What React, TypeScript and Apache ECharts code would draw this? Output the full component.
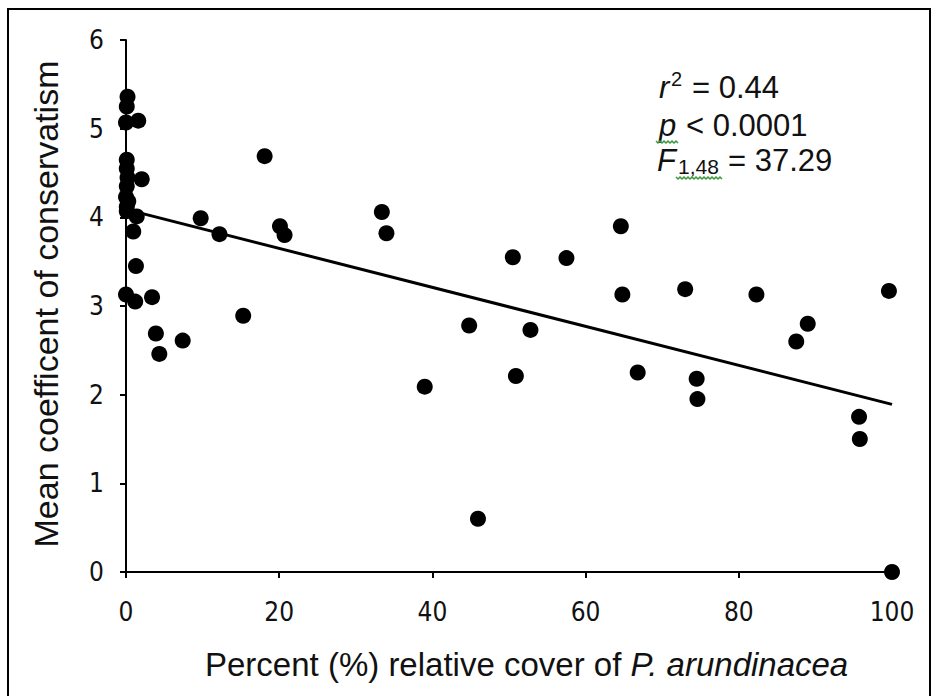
import React, { useEffect, useRef } from "react";
import * as echarts from "echarts";

const FONT = "'Liberation Sans', Arial, sans-serif";
const NARROW = "'Liberation Sans Narrow', 'Arial Narrow', 'DejaVu Sans Condensed', sans-serif";

// Percent relative cover of P. arundinacea
const coverPct = [
  0.2, 0.1, 0.0, 1.6, 0.1, 0.1, 0.2, 2.05, 0.1, 0.0,
  0.1, 0.1, 1.4, 0.95, 1.3, 0.0, 1.2, 3.4, 3.9, 4.35,
  7.4, 9.75, 12.2, 18.1, 20.1, 20.7, 15.3, 33.4, 34.0, 50.5,
  57.5, 64.6, 64.8, 44.8, 52.8, 39.0, 50.9, 66.8, 73.0, 82.3,
  99.6, 89.0, 87.5, 74.5, 74.6, 95.7, 95.8, 100.0, 45.95, 0.3,
];
// Mean coefficient of conservatism
const meanCC = [
  5.36, 5.25, 5.07, 5.09, 4.65, 4.55, 4.45, 4.43, 4.35, 4.23,
  4.12, 4.07, 4.01, 3.84, 3.45, 3.13, 3.05, 3.1, 2.69, 2.46,
  2.61, 3.99, 3.81, 4.69, 3.9, 3.8, 2.89, 4.06, 3.82, 3.55,
  3.54, 3.9, 3.13, 2.78, 2.73, 2.09, 2.21, 2.25, 3.19, 3.13,
  3.17, 2.8, 2.6, 2.18, 1.95, 1.75, 1.5, 0.0, 0.6, 4.18,
];
// Regression line end points
const fitX = [0, 100];
const fitY = [4.09, 1.89];

const xTicks = { min: 0, max: 100, interval: 20 };
const yTicks = { min: 0, max: 6, interval: 1 };

const xTitle = "Percent (%) relative cover of ";
const xTitleItalic = "P. arundinacea";
const yTitle = "Mean coefficent of conservatism";

function squiggle(x0: number, x1: number, y: number) {
  const pts: number[][] = [];
  let up = true;
  for (let x = x0; x <= x1; x += 2) {
    pts.push([x, up ? y : y + 2]);
    up = !up;
  }
  return pts;
}

export default function App() {
  const ref = useRef<HTMLDivElement>(null);
  useEffect(() => {
    if (!ref.current) return;
    const chart = echarts.init(ref.current, null, { renderer: "svg" });
    const pts = coverPct.map((x, i) => [x, meanCC[i]]);
    const fit = fitX.map((x, i) => [x, fitY[i]]);
    const axisCommon = {
      axisLine: { show: true, lineStyle: { color: "#000", width: 2 } },
      axisTick: { show: true, inside: false, length: 6, lineStyle: { color: "#000", width: 2 } },
      splitLine: { show: false },
    };
    chart.setOption({
      animation: false,
      backgroundColor: "#fff",
      grid: {
        left: 126,
        right: 45,
        top: 40,
        bottom: 124,
        containLabel: false,
        outerBoundsMode: "none",
      },
      xAxis: {
        type: "value",
        ...xTicks,
        ...axisCommon,
        axisLabel: { color: "#111", fontFamily: NARROW, fontSize: 26, margin: 27 },
      },
      yAxis: {
        type: "value",
        ...yTicks,
        ...axisCommon,
        axisLabel: { color: "#111", fontFamily: NARROW, fontSize: 26, margin: 22 },
      },
      series: [
        {
          type: "line",
          data: fit,
          showSymbol: false,
          symbol: "none",
          lineStyle: { color: "#000", width: 3 },
          z: 2,
        },
        {
          type: "scatter",
          data: pts,
          symbol: "circle",
          symbolSize: 16,
          itemStyle: { color: "#000", opacity: 1 },
          z: 3,
        },
      ],
      graphic: [
        {
          type: "rect",
          shape: { x: 8, y: 9, width: 922, height: 700 },
          style: { fill: "none", stroke: "#000", lineWidth: 2 },
          silent: true,
        },
        {
          type: "text",
          x: 205,
          y: 664,
          style: {
            text: `{n|${xTitle}}{i|${xTitleItalic}}`,
            verticalAlign: "middle",
            align: "left",
            rich: {
              n: { fontFamily: FONT, fontSize: 33, fill: "#111" },
              i: { fontFamily: FONT, fontSize: 33, fontStyle: "italic", fill: "#111" },
            },
          },
        },
        {
          type: "text",
          x: 46,
          y: 304,
          rotation: Math.PI / 2,
          style: {
            text: yTitle,
            fontFamily: FONT,
            fontSize: 34,
            fill: "#111",
            align: "center",
            verticalAlign: "middle",
          },
        },
        // r^2 = 0.44
        { type: "text", x: 659, y: 87, style: { text: "r", fontFamily: FONT, fontSize: 31, fontStyle: "italic", fill: "#111", verticalAlign: "middle" } },
        { type: "text", x: 671, y: 79, style: { text: "2", fontFamily: FONT, fontSize: 20, fill: "#111", verticalAlign: "middle" } },
        { type: "text", x: 692, y: 87, style: { text: "= 0.44", fontFamily: FONT, fontSize: 31, fill: "#111", verticalAlign: "middle" } },
        // p < 0.0001
        { type: "text", x: 659, y: 125, style: { text: "p", fontFamily: FONT, fontSize: 31, fontStyle: "italic", fill: "#111", verticalAlign: "middle" } },
        { type: "text", x: 686, y: 125, style: { text: "< 0.0001", fontFamily: FONT, fontSize: 31, fill: "#111", verticalAlign: "middle" } },
        // F1,48 = 37.29
        { type: "text", x: 657, y: 160, style: { text: "F", fontFamily: FONT, fontSize: 31, fontStyle: "italic", fill: "#111", verticalAlign: "middle" } },
        { type: "text", x: 678, y: 166, style: { text: "1,48", fontFamily: FONT, fontSize: 21, fill: "#111", verticalAlign: "middle" } },
        { type: "text", x: 728, y: 160, style: { text: "= 37.29", fontFamily: FONT, fontSize: 31, fill: "#111", verticalAlign: "middle" } },
        {
          type: "polyline",
          shape: { points: squiggle(656, 678, 141) },
          style: { stroke: "#3c9a3c", lineWidth: 1.5, fill: "none" },
          silent: true,
        },
        {
          type: "polyline",
          shape: { points: squiggle(676, 722, 177) },
          style: { stroke: "#3c9a3c", lineWidth: 1.5, fill: "none" },
          silent: true,
        },
      ],
    });
    return () => chart.dispose();
  }, []);
  return (
    <div
      ref={ref}
      style={{ position: "fixed", left: 0, top: 0, width: 937, height: 696, background: "#fff" }}
    />
  );
}
